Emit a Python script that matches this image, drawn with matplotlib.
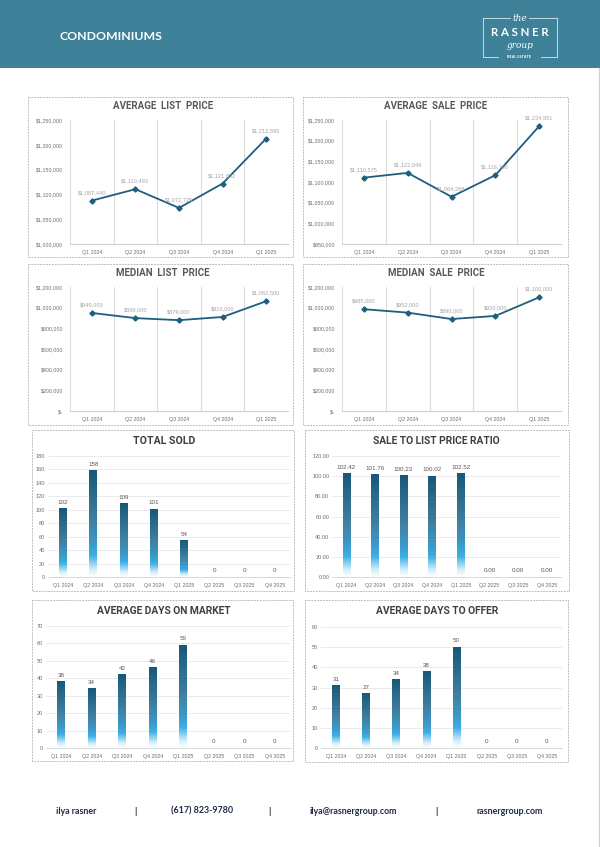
import matplotlib
matplotlib.use('Agg')
import matplotlib.pyplot as plt
import numpy as np
from matplotlib.colors import LinearSegmentedColormap
from matplotlib.patches import Rectangle
from matplotlib.ticker import FuncFormatter

# ---------------- data ----------------
quarters5 = ['Q1 2024', 'Q2 2024', 'Q3 2024', 'Q4 2024', 'Q1 2025']
quarters8 = ['Q1 2024', 'Q2 2024', 'Q3 2024', 'Q4 2024', 'Q1 2025', 'Q2 2025', 'Q3 2025', 'Q4 2025']
avg_list = [1087440, 1110493, 1072725, 1121892, 1212595]
avg_sale = [1110575, 1122049, 1064288, 1116300, 1234951]
med_list = [949000, 899000, 879000, 910000, 1062500]
med_sale = [985000, 952000, 890000, 920000, 1100000]
total_sold = [102, 158, 109, 101, 54, 0, 0, 0]
sale_to_list = [102.42, 101.76, 100.23, 100.02, 102.52, 0.00, 0.00, 0.00]
avg_dom = [38, 34, 42, 46, 59, 0, 0, 0]
avg_dto = [31, 27, 34, 38, 50, 0, 0, 0]

# ---------------- style ----------------
W, H = 600, 847
HEADER = '#3E8199'
LINE = '#1E5E7E'
TICKC = '#6E6E6E'
TICKF = 'Liberation Sans'
TITLEF = 'Roboto'
NAVY = '#1F2B47'

fig = plt.figure(figsize=(W / 100, H / 100), dpi=100)
bg = fig.add_axes([0, 0, 1, 1])
bg.set_xlim(0, W)
bg.set_ylim(H, 0)
bg.axis('off')


def px_axes(x0, y0, x1, y1):
    return fig.add_axes([x0 / W, 1 - y1 / H, (x1 - x0) / W, (y1 - y0) / H])


# header band
bg.add_patch(Rectangle((0, 0), W, 68, facecolor=HEADER, edgecolor='none'))
bg.text(60, 37, 'CONDOMINIUMS', color='white', fontsize=8.8, fontweight='bold',
        family='Lato', ha='left', va='center')
bg.plot([598.5, 598.5], [68, H], color='#D0D0D0', lw=0.8)

# logo
lx0, lx1, ly0, ly1 = 483, 557, 18, 57
LC = '#DDE9EE'
bg.plot([lx0, lx0], [ly0, ly1], color=LC, lw=0.6)
bg.plot([lx1, lx1], [ly0, ly1], color=LC, lw=0.6)
bg.plot([lx0, 510], [ly0, ly0], color=LC, lw=0.6)
bg.plot([529, lx1], [ly0, ly0], color=LC, lw=0.6)
bg.plot([lx0, 498], [ly1, ly1], color=LC, lw=0.6)
bg.plot([541, lx1], [ly1, ly1], color=LC, lw=0.6)
bg.text(519.5, 18.5, 'the', color='white', fontsize=6.5, style='italic',
        family='DejaVu Serif', ha='center', va='center')
bg.text(520, 32.5, 'R A S N E R', color='white', fontsize=8.2, fontweight='bold',
        family='Lato', ha='center', va='center')
bg.text(520, 45, 'group', color='white', fontsize=6.5, style='italic',
        family='DejaVu Serif', ha='center', va='center')
bg.text(519.5, 57, 'REAL ESTATE', color='white', fontsize=2.8, fontweight='bold',
        family='Lato', ha='center', va='center')

# panel borders
panels = [
    (28, 97, 293, 257), (303, 97, 568, 257),
    (28, 264, 293, 425), (303, 264, 568, 425),
    (32, 430, 294, 591), (305, 430, 569, 591),
    (32, 600, 293, 761), (305, 600, 568, 762),
]
for (x0, y0, x1, y1) in panels:
    bg.add_patch(Rectangle((x0, y0), x1 - x0, y1 - y0, facecolor='none',
                           edgecolor='#BDBDBD', lw=0.7, ls=(0, (2, 1))))

# panel titles
titles = [
    ('AVERAGE  LIST  PRICE', 163, 106, '#595959', 7.0),
    ('AVERAGE  SALE  PRICE', 436, 106, '#595959', 7.0),
    ('MEDIAN  LIST  PRICE', 163, 273, '#595959', 7.0),
    ('MEDIAN  SALE  PRICE', 436, 273, '#595959', 7.0),
    ('TOTAL SOLD', 164, 441, '#404040', 7.6),
    ('SALE TO LIST PRICE RATIO', 436, 441, '#404040', 7.4),
    ('AVERAGE DAYS ON MARKET', 164, 611, '#404040', 7.4),
    ('AVERAGE DAYS TO OFFER', 437, 611, '#404040', 7.4),
]
for t, x, y, c, fs in titles:
    bg.text(x, y, t, color=c, fontsize=fs, fontweight='bold', family=TITLEF,
            ha='center', va='center')


def money(v, pos=None):
    if v == 0:
        return '$-'
    return '${:,.0f}'.format(v)


def line_chart(rect, vals, ymin, ymax, step, fmt):
    ax = px_axes(*rect)
    x = np.arange(len(vals))
    ax.plot(x, vals, color=LINE, lw=1.3, marker='D', ms=2.6, zorder=3)
    ax.set_xlim(-0.5, len(vals) - 0.5)
    ax.set_ylim(ymin, ymax)
    ax.set_yticks(np.arange(ymin, ymax + step / 2, step))
    ax.yaxis.set_major_formatter(FuncFormatter(fmt))
    ax.set_xticks(x)
    ax.set_xticklabels(quarters5)
    ax.set_xticks(np.arange(-0.5, len(vals)), minor=True)
    ax.grid(which='minor', axis='x', color='#DCDCDC', lw=0.8)
    ax.tick_params(which='both', length=0)
    ax.tick_params(axis='y', pad=5, labelsize=3.8, labelcolor=TICKC)
    ax.tick_params(axis='x', pad=4, labelsize=3.8, labelcolor=TICKC)
    for lab in ax.get_xticklabels() + ax.get_yticklabels():
        lab.set_family(TICKF)
    for s in ['top', 'right', 'left']:
        ax.spines[s].set_visible(False)
    ax.spines['bottom'].set_color('#CFCFCF')
    ax.spines['bottom'].set_linewidth(0.8)
    ax.patch.set_alpha(0)
    for xi, v in zip(x, vals):
        ax.annotate(money(v), (xi, v), xytext=(0, 5.8), textcoords='offset points',
                    ha='center', va='center', fontsize=4.1, color='#A6A6A6',
                    family=TICKF, zorder=4)
    return ax


line_chart((70, 120, 288, 244), avg_list, 1000000, 1250000, 50000, money)
line_chart((342, 120, 561, 244), avg_sale, 950000, 1250000, 50000, money)
line_chart((70, 287, 288, 411), med_list, 0, 1200000, 200000, money)
line_chart((342, 287, 561, 411), med_sale, 0, 1200000, 200000, money)

cmap = LinearSegmentedColormap.from_list('bar', [
    (0.0, '#FFFFFF'), (0.07, '#D4EEFA'), (0.2, '#3BAFE6'), (0.32, '#3C98C6'),
    (0.55, '#3F7D9F'), (1.0, '#175878')])
grad = np.linspace(0, 1, 256).reshape(-1, 1)


def bar_chart(rect, vals, ymax, step, fmt):
    ax = px_axes(*rect)
    x = np.arange(len(vals))
    bars = ax.bar(x, vals, width=0.26, color='none', edgecolor='none', zorder=2)
    for b in bars:
        h = b.get_height()
        if h > 0:
            ax.imshow(grad, extent=[b.get_x(), b.get_x() + b.get_width(), 0, h],
                      origin='lower', aspect='auto', cmap=cmap, zorder=2,
                      interpolation='bilinear')
    ax.set_xlim(-0.5, len(vals) - 0.5)
    ax.set_ylim(0, ymax)
    ax.set_yticks(np.arange(0, ymax + step / 2, step))
    ax.yaxis.set_major_formatter(FuncFormatter(lambda v, p: fmt(v)))
    ax.set_xticks(x)
    ax.set_xticklabels(quarters8)
    ax.yaxis.grid(True, color='#E8E8E8', lw=0.6)
    ax.set_axisbelow(True)
    ax.tick_params(which='both', length=0)
    ax.tick_params(axis='y', pad=2, labelsize=4.0, labelcolor=TICKC)
    ax.tick_params(axis='x', pad=4, labelsize=3.8, labelcolor=TICKC)
    for lab in ax.get_xticklabels() + ax.get_yticklabels():
        lab.set_family(TICKF)
    for s in ['top', 'right', 'left']:
        ax.spines[s].set_visible(False)
    ax.spines['bottom'].set_color('#D9D9D9')
    ax.spines['bottom'].set_linewidth(0.7)
    ax.patch.set_alpha(0)
    for xi, v in zip(x, vals):
        ax.annotate(fmt(v), (xi, v), xytext=(0, 4.5), textcoords='offset points',
                    ha='center', va='center', fontsize=4.5, color='#595959',
                    family=TICKF, zorder=4)
    return ax


intf = lambda v: '{:.0f}'.format(v)
dec2 = lambda v: '{:.2f}'.format(v)
bar_chart((48, 456, 290, 577), total_sold, 180, 20, intf)
bar_chart((332, 456, 561, 577), sale_to_list, 120, 20, dec2)
bar_chart((46, 626, 290, 748), avg_dom, 70, 10, intf)
bar_chart((321, 627, 562, 748), avg_dto, 60, 10, intf)

# footer
foot = [('ilya rasner', 76), ('|', 135), ('(617) 823-9780', 202), ('|', 269),
        ('ilya@rasnergroup.com', 353), ('|', 436), ('rasnergroup.com', 510)]
for t, x in foot:
    bg.text(x, 811, t, color=NAVY, fontsize=6.4, fontweight='bold', family='Lato',
            ha='center', va='center')

fig.savefig('out.png', dpi=100)
